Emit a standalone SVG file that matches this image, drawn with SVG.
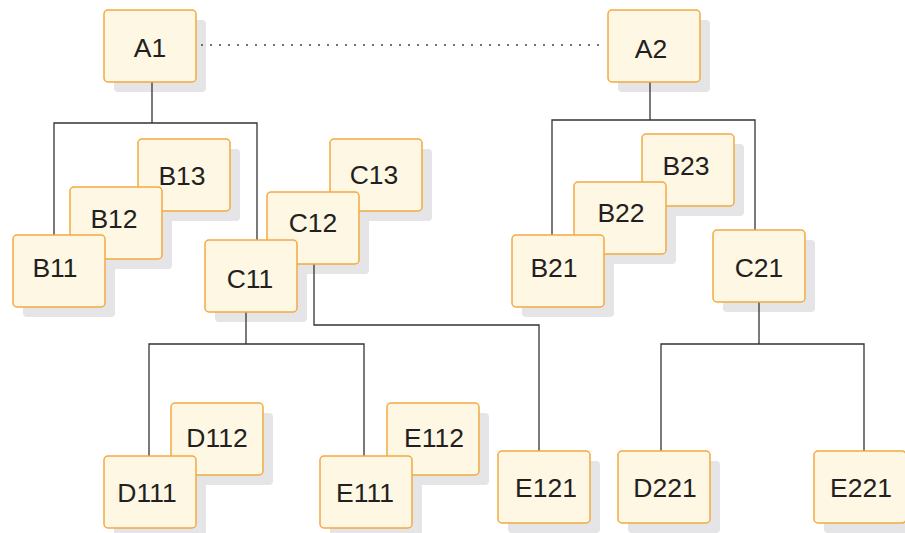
<svg xmlns="http://www.w3.org/2000/svg" width="905" height="533" viewBox="0 0 905 533">
<style>
.sh{fill:#e5e5e8}
.bx{fill:#fdf7e4;stroke:#f2aa40;stroke-width:1.5}
.tx{font-family:"Liberation Sans",Arial,Helvetica,sans-serif;font-size:26.5px;fill:#231f20;text-anchor:middle}
.ln{fill:none;stroke:#333;stroke-width:1.3}
.dt{fill:none;stroke:#444;stroke-width:1.6;stroke-dasharray:2 7}
</style>
<rect width="905" height="533" fill="#fff"/>
<g id="shadows">
<rect class="sh" x="114" y="20" width="92" height="72" rx="4"/>
<rect class="sh" x="618" y="20" width="92" height="72" rx="4"/>
<rect class="sh" x="148" y="149" width="92" height="72" rx="4"/>
<rect class="sh" x="80" y="197" width="92" height="72" rx="4"/>
<rect class="sh" x="23" y="245" width="92" height="72" rx="4"/>
<rect class="sh" x="340" y="149" width="92" height="72" rx="4"/>
<rect class="sh" x="277" y="202" width="92" height="72" rx="4"/>
<rect class="sh" x="215" y="250" width="92" height="72" rx="4"/>
<rect class="sh" x="652" y="144" width="92" height="72" rx="4"/>
<rect class="sh" x="584" y="192" width="92" height="72" rx="4"/>
<rect class="sh" x="522" y="245" width="92" height="72" rx="4"/>
<rect class="sh" x="723" y="240" width="92" height="72" rx="4"/>
<rect class="sh" x="181" y="413" width="92" height="72" rx="4"/>
<rect class="sh" x="114" y="466" width="92" height="72" rx="4"/>
<rect class="sh" x="397" y="413" width="92" height="72" rx="4"/>
<rect class="sh" x="330" y="466" width="92" height="72" rx="4"/>
<rect class="sh" x="508" y="461" width="92" height="72" rx="4"/>
<rect class="sh" x="628" y="461" width="92" height="72" rx="4"/>
<rect class="sh" x="824" y="461" width="92" height="72" rx="4"/>
</g>
<g id="connectors">
<line class="dt" x1="201" y1="45" x2="604" y2="45"/>
<polyline class="ln" points="152,82 152,123"/>
<polyline class="ln" points="54,235 54,123 257,123 257,240"/>
<polyline class="ln" points="650,82 650,120"/>
<polyline class="ln" points="552,235 552,120 755,120 755,230"/>
<polyline class="ln" points="246,312 246,344"/>
<polyline class="ln" points="149,456 149,344 364,344 364,456"/>
<polyline class="ln" points="314,264 314,325 539,325 539,451"/>
<polyline class="ln" points="759,302 759,344"/>
<polyline class="ln" points="661,451 661,344 864,344 864,451"/>
</g>
<g id="A1"><rect class="bx" x="104" y="10" width="92" height="72" rx="4"/><text class="tx" x="150" y="57">A1</text></g>
<g id="A2"><rect class="bx" x="608" y="10" width="92" height="72" rx="4"/><text class="tx" x="651" y="58">A2</text></g>
<g id="B13"><rect class="bx" x="138" y="139" width="92" height="72" rx="4"/><text class="tx" x="182" y="185">B13</text></g>
<g id="B12"><rect class="bx" x="70" y="187" width="92" height="72" rx="4"/><text class="tx" x="114" y="228">B12</text></g>
<g id="B11"><rect class="bx" x="13" y="235" width="92" height="72" rx="4"/><text class="tx" x="55" y="277">B11</text></g>
<g id="C13"><rect class="bx" x="330" y="139" width="92" height="72" rx="4"/><text class="tx" x="374" y="184">C13</text></g>
<g id="C12"><rect class="bx" x="267" y="192" width="92" height="72" rx="4"/><text class="tx" x="313" y="232">C12</text></g>
<g id="C11"><rect class="bx" x="205" y="240" width="92" height="72" rx="4"/><text class="tx" x="250" y="288">C11</text></g>
<g id="B23"><rect class="bx" x="642" y="134" width="92" height="72" rx="4"/><text class="tx" x="686" y="175">B23</text></g>
<g id="B22"><rect class="bx" x="574" y="182" width="92" height="72" rx="4"/><text class="tx" x="621" y="222">B22</text></g>
<g id="B21"><rect class="bx" x="512" y="235" width="92" height="72" rx="4"/><text class="tx" x="554" y="277">B21</text></g>
<g id="C21"><rect class="bx" x="713" y="230" width="92" height="72" rx="4"/><text class="tx" x="759" y="277">C21</text></g>
<g id="D112"><rect class="bx" x="171" y="403" width="92" height="72" rx="4"/><text class="tx" x="217" y="447">D112</text></g>
<g id="D111"><rect class="bx" x="104" y="456" width="92" height="72" rx="4"/><text class="tx" x="147" y="502">D111</text></g>
<g id="E112"><rect class="bx" x="387" y="403" width="92" height="72" rx="4"/><text class="tx" x="434" y="447">E112</text></g>
<g id="E111"><rect class="bx" x="320" y="456" width="92" height="72" rx="4"/><text class="tx" x="365" y="502">E111</text></g>
<g id="E121"><rect class="bx" x="498" y="451" width="92" height="72" rx="4"/><text class="tx" x="546" y="497">E121</text></g>
<g id="D221"><rect class="bx" x="618" y="451" width="92" height="72" rx="4"/><text class="tx" x="665" y="497">D221</text></g>
<g id="E221"><rect class="bx" x="814" y="451" width="92" height="72" rx="4"/><text class="tx" x="861" y="497">E221</text></g>
</svg>
